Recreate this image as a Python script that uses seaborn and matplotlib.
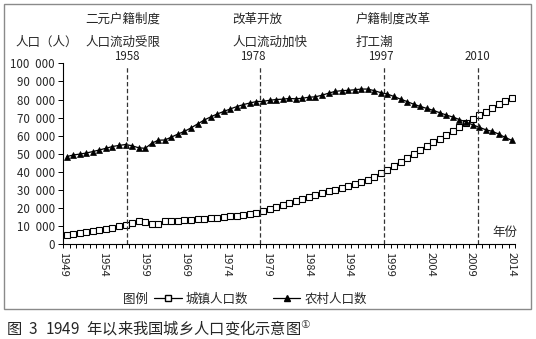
import numpy as np
import pandas as pd
import matplotlib
matplotlib.use("Agg")
import matplotlib.pyplot as plt
import matplotlib.transforms as mtransforms
from matplotlib.lines import Line2D
from matplotlib.patches import Rectangle
from matplotlib.ticker import FuncFormatter
import seaborn as sns

# ---------------- data ----------------
years = list(range(1949, 2018))
urban = [5300, 5800, 6200, 6800, 7500, 7900, 8100, 9000, 9800, 10500,
         11900, 12600, 12200, 11300, 11300, 12600, 12800, 13000, 13100, 13500,
         13700, 14100, 14300, 14700, 15000, 15400, 15800, 16100, 16500, 17100,
         18400, 19200, 20300, 21400, 22500, 23600, 24900, 26100, 27400, 28300,
         29400, 30200, 31100, 32100, 33000, 34100, 35200, 37100, 39400, 41200,
         43300, 45600, 47800, 50100, 52300, 54300, 56400, 58300, 60500, 62400,
         64700, 67100, 69200, 71200, 73300, 75200, 77400, 79300, 81100]
rural = [48400, 49300, 49800, 50400, 51200, 52100, 53000, 54000, 54600, 55100,
         54400, 53300, 53000, 55800, 57500, 57600, 59200, 60900, 62400, 64300,
         66500, 68600, 70400, 72000, 73400, 74800, 76100, 77200, 78100, 78900,
         79000, 79600, 80000, 80200, 80600, 80400, 80700, 81300, 81500, 82400,
         83500, 84500, 84900, 85100, 85400, 85800, 85800, 84900, 83800, 83000,
         81700, 80200, 78900, 77400, 76200, 75100, 74000, 72700, 71400, 70300,
         68900, 67600, 66000, 64700, 63300, 62400, 60900, 59000, 57400]
series_names = ["城镇人口数", "农村人口数"]

tick_labels = ["1949", "1954", "1959", "1969", "1974", "1979",
               "1984", "1994", "1999", "2004", "2009", "2014"]

event_pos = [1958.2, 1978.5, 1997.5, 2011.8]
event_labels = ["1958", "1978", "1997", "2010"]
event_label_pos = [1958.2, 1977.4, 1997.0, 2011.7]
event_texts = [("二元户籍制度", "人口流动受限", 1951.9),
               ("改革开放", "人口流动加快", 1974.3),
               ("户籍制度改革", "打工潮", 1993.2)]

df = pd.DataFrame({"年份": years * 2,
                   "人口": urban + rural,
                   "类型": [series_names[0]] * len(years) + [series_names[1]] * len(years)})

# ---------------- style ----------------
sns.set_theme(style="ticks")
plt.rcParams["font.family"] = ["Noto Sans CJK SC", "DejaVu Sans"]
plt.rcParams["axes.unicode_minus"] = False

fig = plt.figure(figsize=(5.36, 3.39), dpi=100)
ax = fig.add_axes([0.117, 0.280, 0.844, 0.533])

sns.lineplot(data=df[df["类型"] == series_names[0]], x="年份", y="人口", ax=ax,
             color="black", linewidth=0.9, marker="s", markersize=4.2,
             markerfacecolor="white", markeredgecolor="black", markeredgewidth=0.8,
             legend=False)
sns.lineplot(data=df[df["类型"] == series_names[1]], x="年份", y="人口", ax=ax,
             color="black", linewidth=0.9, marker="^", markersize=4.2,
             markerfacecolor="black", markeredgecolor="black", markeredgewidth=0.5,
             legend=False)

ax.set_xlim(1948.5, 2017.5)
ax.set_ylim(0, 100000)
ax.set_yticks(np.arange(0, 100001, 10000))
ax.yaxis.set_major_formatter(FuncFormatter(lambda v, p: f"{int(v):,}".replace(",", "\u2002")))
ax.set_xticks(np.linspace(1948.4, 2017.0, len(tick_labels)))
ax.set_xticklabels(tick_labels, rotation=270, fontsize=8)
ax.set_xticks(np.arange(1948.5, 2018, 1.0), minor=True)
ax.tick_params(axis="x", which="major", length=0, pad=6)
ax.tick_params(axis="x", which="minor", length=3, width=0.7, direction="out", color="black")
ax.tick_params(axis="y", which="major", length=3.5, width=0.7, direction="out",
               labelsize=8.3, pad=2, color="black")
ax.set_xlabel("")
ax.set_ylabel("")
for s in ["top", "right"]:
    ax.spines[s].set_visible(False)
for s in ["left", "bottom"]:
    ax.spines[s].set_color("black")
    ax.spines[s].set_linewidth(0.8)
ax.grid(False)

# event dashed lines
for p in event_pos:
    ax.axvline(p, ymin=0, ymax=0.985, color="#333333", linestyle=(0, (3.5, 2)), linewidth=0.9)

trans = mtransforms.blended_transform_factory(ax.transData, fig.transFigure)
for p, lab in zip(event_label_pos, event_labels):
    ax.text(p, 0.832, lab, transform=trans, ha="center", va="center", fontsize=8.3)
for t1, t2, xp in event_texts:
    ax.text(xp, 0.944, t1, transform=trans, ha="left", va="center", fontsize=9)
    ax.text(xp, 0.876, t2, transform=trans, ha="left", va="center", fontsize=9)

fig.text(0.028, 0.876, "人口（人）", ha="left", va="center", fontsize=9)
fig.text(0.942, 0.313, "年份", ha="center", va="center", fontsize=9)

# legend
fig.text(0.252, 0.118, "图例", ha="center", va="center", fontsize=9)
handles = [Line2D([], [], color="black", lw=0.9, marker="s", markersize=4,
                  markerfacecolor="white", markeredgecolor="black"),
           Line2D([], [], color="black", lw=0.9, marker="^", markersize=4,
                  markerfacecolor="black", markeredgecolor="black")]
fig.legend(handles, series_names, loc="center", bbox_to_anchor=(0.486, 0.118),
           ncol=2, frameon=False, fontsize=9, handlelength=2.2, handletextpad=0.3,
           columnspacing=2.0, borderpad=0)

# frame
fig.patches.append(Rectangle((0.0075, 0.088), 0.983, 0.900, transform=fig.transFigure,
                             fill=False, edgecolor="#8a8a8a", linewidth=1.0))

fig.text(0.012, 0.032, "图\u20023\u20021949\u2002年以来我国城乡人口变化示意图$^{①}$",
         ha="left", va="center", fontsize=11)

fig.savefig("out.png", dpi=100)
